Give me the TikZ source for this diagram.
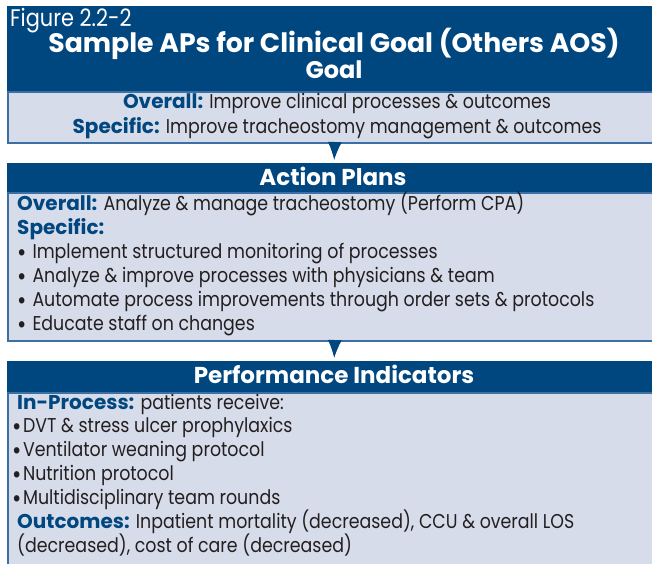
\documentclass[tikz,border=0pt]{standalone}
\usepackage{fontspec}
\setmainfont{Poppins}[UprightFeatures={FakeStretch=0.87}]
\usepackage{xcolor}
\usetikzlibrary{arrows.meta,positioning}

\definecolor{navy}{HTML}{00467F}
\definecolor{paleblue}{HTML}{D7DCEA}
\definecolor{rule}{HTML}{3C6FA3}
\definecolor{ink}{HTML}{231F20}

\tikzset{
  hdbox/.style={fill=navy, anchor=north west, minimum width=654pt, inner sep=0pt},
  bodybox/.style={fill=paleblue, draw=rule, line width=1.5pt, anchor=north west,
    minimum width=654pt, inner sep=0pt},
  hdtext/.style={text=white, font=\bfseries\fontsize{23}{25}\selectfont,
    inner sep=0pt, anchor=base},
  bodyline/.style={text=ink, font=\fontsize{20}{22}\selectfont, inner sep=0pt,
    anchor=base west},
  flow/.style={draw=navy, line width=1pt, -{Latex[length=18pt,width=14pt]}},
}
\newcommand{\kw}[1]{\textcolor{navy}{\textbf{#1}}}
\newcommand{\itemdot}{\smash{\raisebox{-3pt}{\fontsize{26}{20}\selectfont•}}}

\begin{document}
\begin{tikzpicture}[x=1pt, y=-1pt]
\useasboundingbox (0,0) rectangle (652,563);

% panels
\node[hdbox, minimum height=85pt] (goalhead) at (7,6) {};
\node[bodybox, minimum height=51pt] (goalbody) at (goalhead.south west) {};
\node[hdbox, minimum height=29pt] (aphead) at (7,163) {};
\node[bodybox, minimum height=148pt] (apbody) at (aphead.south west) {};
\node[hdbox, minimum height=31pt] (pihead) at (7,361) {};
\node[bodybox, minimum height=190pt] (pibody) at (pihead.south west) {};

% header texts
\node[text=white, font=\fontsize{24}{25}\selectfont, inner sep=0pt, anchor=base west]
  (fig) at (10,26) {Figure 2.2-2};
\node[hdtext, font=\bfseries\fontsize{26.7}{28}\selectfont] (title) at (334,52)
  {Sample APs for Clinical Goal (Others AOS)};
\node[hdtext, font=\bfseries\fontsize{24}{26}\selectfont] (goallbl) at (334,78) {Goal};
\node[hdtext] (aplbl) at (333,185) {Action Plans};
\node[hdtext] (pilbl) at (334,383) {Performance Indicators};

% goal
\node[bodyline, anchor=base] (goalover) at (337,108)
  {\kw{Overall:} Improve clinical processes \& outcomes};
\node[bodyline, anchor=base] (goalspec) at (337,133)
  {\kw{Specific:} Improve tracheostomy management \& outcomes};

% action plans
\node[bodyline] (apover) at (17,210)
  {\kw{Overall:} Analyze \& manage tracheostomy (Perform CPA)};
\node[bodyline] (apspec) at (17,234) {\kw{Specific:}};
\foreach \txt [count=\i] in {Implement structured monitoring of processes,
    Analyze \& improve processes with physicians \& team,
    Automate process improvements through order sets \& protocols,
    Educate staff on changes}
  \node[bodyline] (apitem\i) at (17,{234+24*\i}) {\itemdot\hspace{6pt}\txt};

% performance indicators
\node[bodyline] (piproc) at (17,409) {\kw{In-Process:} patients receive:};
\foreach \txt [count=\i] in {DVT \& stress ulcer prophylaxics,
    Ventilator weaning protocol, Nutrition protocol,
    Multidisciplinary team rounds}
  \node[bodyline] (piitem\i) at (12,{408+24*\i}) {\itemdot\hspace{1.5pt}\txt};
\node[bodyline] (piout) at (17,528)
  {\kw{Outcomes:} Inpatient mortality (decreased), CCU \& overall LOS};
\node[bodyline] (piout2) at (17,552) {(decreased), cost of care (decreased)};

% connectors
\draw[flow] (goalbody.south) -- ([yshift=3pt]aphead.north);
\draw[flow] (apbody.south) -- ([yshift=3pt]pihead.north);
\end{tikzpicture}
\end{document}
